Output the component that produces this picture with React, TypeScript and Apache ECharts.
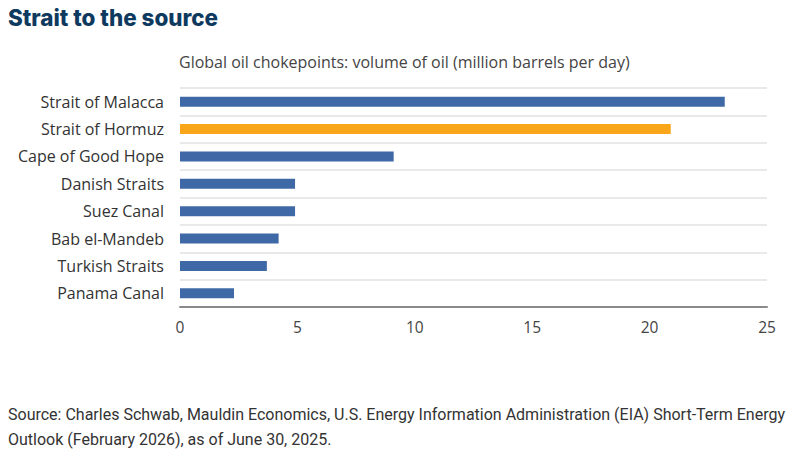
import React, { useEffect, useRef } from "react";
import * as echarts from "echarts";

const categories = [
  "Strait of Malacca",
  "Strait of Hormuz",
  "Cape of Good Hope",
  "Danish Straits",
  "Suez Canal",
  "Bab el-Mandeb",
  "Turkish Straits",
  "Panama Canal",
];
const values = [23.2, 20.9, 9.1, 4.9, 4.9, 4.2, 3.7, 2.3];
const highlight = "Strait of Hormuz";
const xTicks = [0, 5, 10, 15, 20, 25];

const titleText = "Strait to the source";
const subtitleText = "Global oil chokepoints: volume of oil (million barrels per day)";
const sourceLines = [
  "Source: Charles Schwab, Mauldin Economics, U.S. Energy Information Administration (EIA) Short-Term Energy",
  "Outlook (February 2026), as of June 30, 2025.",
];

export default function App() {
  const ref = useRef<HTMLDivElement>(null);
  useEffect(() => {
    document.body.style.margin = "0";
    const chart = echarts.init(ref.current!, null, { renderer: "svg" });
    chart.setOption({
      animation: false,
      backgroundColor: "#ffffff",
      title: {
        text: titleText,
        left: 8,
        top: 6,
        padding: 0,
        textStyle: {
          fontFamily: "Inter",
          fontWeight: 800,
          fontSize: 22.4,
          color: "#0f3a5f",
        },
      },
      graphic: [
        {
          type: "text",
          left: 179,
          top: 54,
          style: {
            text: subtitleText,
            fontFamily: "Open Sans",
            fontSize: 16,
            fill: "#444444",
          },
        },
        ...sourceLines.map((t, i) => ({
          type: "text",
          left: 8,
          top: 406 + i * 25,
          style: {
            text: t,
            fontFamily: "Roboto",
            fontSize: 16,
            fill: "#333333",
          },
        })),
      ],
      grid: { left: 180, right: 43, top: 88, bottom: 152, containLabel: false },
      xAxis: {
        type: "value",
        min: xTicks[0],
        max: xTicks[xTicks.length - 1],
        interval: 5,
        axisLine: { show: true, lineStyle: { color: "#8a8a8a", width: 2 } },
        axisTick: { show: false },
        splitLine: { show: false },
        axisLabel: {
          margin: 12,
          fontFamily: "Open Sans",
          fontSize: 15.5,
          color: "#444444",
        },
      },
      yAxis: {
        type: "category",
        data: categories,
        inverse: true,
        axisLine: { show: false },
        axisTick: { show: false },
        splitLine: { show: true, lineStyle: { color: "#e2e2e2", width: 1.5 } },
        axisLabel: {
          margin: 16,
          fontFamily: "Open Sans",
          fontSize: 16,
          color: "#333333",
        },
      },
      series: [
        {
          type: "bar",
          barWidth: 10,
          data: categories.map((c, i) => ({
            value: values[i],
            itemStyle: { color: c === highlight ? "#faa61a" : "#3f68a6" },
          })),
        },
      ],
    });
    return () => chart.dispose();
  }, []);
  return <div ref={ref} style={{ width: 810, height: 459 }} />;
}
